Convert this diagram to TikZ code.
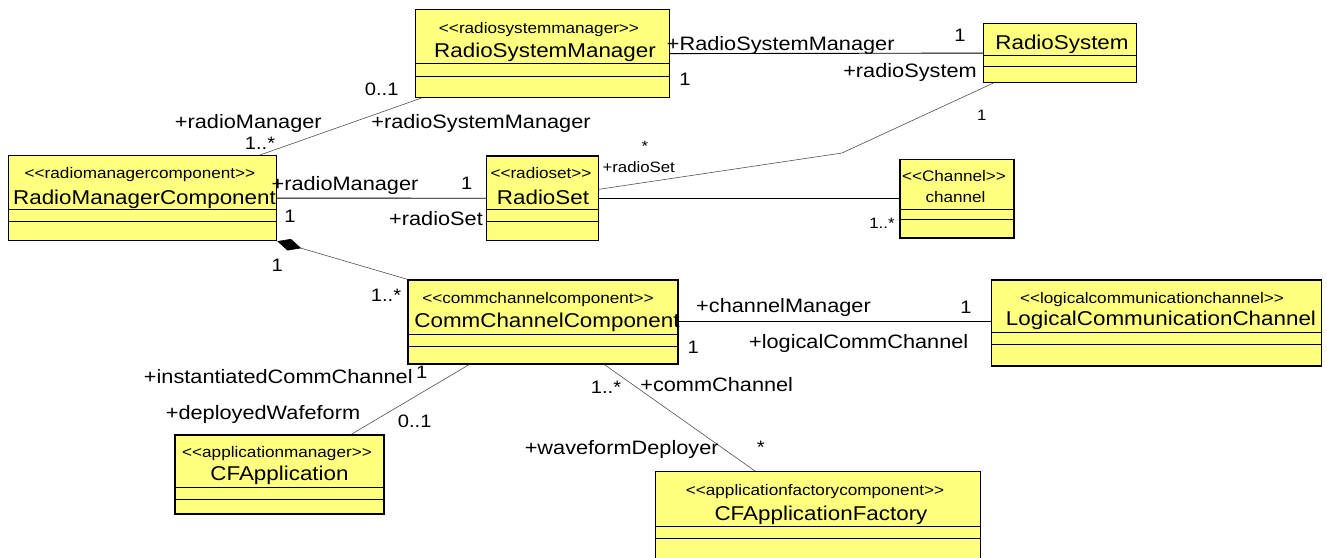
\documentclass[tikz,border=0pt]{standalone}
\usepackage{fontspec}
\setmainfont{Liberation Sans}[FakeStretch=1.12, Ligatures=TeXOff]
\usetikzlibrary{arrows.meta,calc}
\definecolor{classfill}{RGB}{255,255,128}
\definecolor{assocgray}{RGB}{80,80,80}

\tikzset{
  classbox/.style={draw=black, fill=classfill, line width=1.2pt, inner sep=0pt, anchor=north west},
  compline/.style={draw=black, line width=1pt},
  assoc/.style={draw=black, line width=0.9pt},
  diag/.style={draw=assocgray, line width=0.6pt},
  composite/.style={{Diamond[length=25pt,width=12pt,fill=black,color=black]}-},
  clsname/.style={font=\fontsize{20}{21}\selectfont, inner sep=0pt, text height=14.4pt, text depth=0pt},
  stereo/.style={font=\fontsize{15.3}{16}\selectfont, inner sep=0pt, text height=11pt, text depth=0pt},
  lbl/.style={font=\fontsize{19.4}{20}\selectfont, inner sep=0pt, text height=14pt, text depth=0pt},
  mult/.style={font=\fontsize{18}{19}\selectfont, inner sep=0pt, text height=13pt, text depth=0pt},
  smalllbl/.style={font=\fontsize{15}{16}\selectfont, inner sep=0pt, text height=10.8pt, text depth=0pt}
}

% class box: name, top-left x, top-left y, width, height, first and second compartment offsets
\newcommand{\umlbox}[7]{%
  \node[classbox, minimum width=#4pt, minimum height=#5pt] (#1) at (#2,#3) {};
  \draw[compline] ($(#1.north west)+(0,#6)$) -- ($(#1.north east)+(0,#6)$);
  \draw[compline] ($(#1.north west)+(0,#7)$) -- ($(#1.north east)+(0,#7)$);
}

\begin{document}
\begin{tikzpicture}[x=1pt, y=-1pt]
\useasboundingbox (0,0) rectangle (1327,557);
\clip (0,0) rectangle (1327,557);
\fill[white] (0,0) rectangle (1327,557);

% classes
\umlbox{rsm}{415}{9}{254}{88}{54}{67}
\umlbox{rsys}{983}{23}{153}{59}{32}{43.5}
\umlbox{rmc}{7.5}{155}{268.5}{85}{54.3}{66}
\umlbox{rset}{486}{155.3}{111.7}{84.7}{54}{66}
\umlbox{chan}{899.3}{158.7}{114}{78.6}{50.6}{60.6}
\umlbox{ccc}{407.3}{279.3}{270}{84}{55}{67}
\umlbox{lcc}{991}{279.3}{329.7}{86}{52.7}{65}
\umlbox{cfa}{174.3}{434.3}{209}{79}{53}{65}
\umlbox{cfaf}{655}{471}{325}{110}{55.7}{67.3}

% class texts
\node[stereo]  (rsmS)  at (539,28)    {<<radiosystemmanager>>};
\node[clsname] (rsmN)  at (545,50.7)  {RadioSystemManager};
\node[clsname] (rsysN) at (1062,42.7) {RadioSystem};
\node[stereo]  (rmcS)  at (140,173.3) {<<radiomanagercomponent>>};
\node[clsname] (rmcN)  at (144.5,197.5) {RadioManagerComponent};
\node[stereo]  (rsetS) at (541,173.3) {<<radioset>>};
\node[clsname] (rsetN) at (543,197.3) {RadioSet};
\node[stereo]  (chanS) at (954,175.7) {<<Channel>>};
\node[stereo]  (chanN) at (955.5,197.3) {channel};
\node[stereo]  (cccS)  at (538,297.7) {<<commchannelcomponent>>};
\node[clsname] (cccN)  at (547,320.7) {CommChannelComponent};
\node[stereo]  (lccS)  at (1152,298.3) {<<logicalcommunicationchannel>>};
\node[clsname] (lccN)  at (1161,318.3) {LogicalCommunicationChannel};
\node[stereo]  (cfaS)  at (277,451.7) {<<applicationmanager>>};
\node[clsname] (cfaN)  at (279.5,473.3) {CFApplication};
\node[stereo]  (cfafS) at (815,490)   {<<applicationfactorycomponent>>};
\node[clsname] (cfafN) at (821,513.3) {CFApplicationFactory};

% associations
\draw[assoc] (rsm.east) -- (rsys.west);
\draw[diag] ($(rmc.north west)+(252.5,0)$) -- ($(rsm.south west)+(6,0)$);
\draw[assoc] (rmc.east) -- (rset.west);
\coordinate (bend) at (842,153);
\draw[diag] ($(rset.north east)+(0,34)$) -- (bend) -- ($(rsys.south west)+(10,0)$);
\draw[assoc] (rset.east) -- (rset.east -| chan.west);
\draw[diag, composite] (rmc.south east) -- (ccc.north west);
\draw[assoc] (ccc.east) -- (ccc.east -| lcc.west);
\draw[diag] ($(ccc.south west)+(62,0)$) -- ($(cfa.north west)+(177,0)$);
\draw[diag] ($(ccc.south west)+(197,0)$) -- ($(cfaf.north west)+(100,0)$);

% role names and multiplicities
\node[lbl]  (l1)  at (780.7,43.3)  {+RadioSystemManager};
\node[mult] (m1)  at (960,35)      {1};
\node[mult] (m2)  at (685,79.3)    {1};
\node[lbl]  (l2)  at (910,70.7)    {+radioSystem};
\node[mult] (m3)  at (381.7,89.3)  {0..1};
\node[lbl]  (l3)  at (248.3,121.7) {+radioManager};
\node[mult] (m4)  at (260,143.3)   {1..*};
\node[lbl]  (l4)  at (481,121.7)   {+radioSystemManager};
\node[lbl]  (l5)  at (345,183.3)   {+radioManager};
\node[mult] (m5)  at (290,215.7)   {1};
\node[mult] (m6)  at (466.7,183.3) {1};
\node[lbl]  (l6)  at (436,218.3)   {+radioSet};
\node[smalllbl] (m7) at (645,146.5) {*};
\node[smalllbl] (l7) at (638.7,166.7) {+radioSet};
\node[smalllbl] (m8) at (981.7,115) {1};
\node[smalllbl] (m9) at (882,222.7) {1..*};
\node[mult] (m10) at (277.3,265)   {1};
\node[mult] (m11) at (386,295)     {1..*};
\node[lbl]  (l8)  at (783.5,305)   {+channelManager};
\node[mult] (m12) at (966,306.7)   {1};
\node[mult] (m13) at (693.3,346.7) {1};
\node[lbl]  (l9)  at (858.7,341.7) {+logicalCommChannel};
\node[lbl]  (l10) at (278.3,376.7) {+instantiatedCommChannel};
\node[mult] (m14) at (421.7,371.7) {1};
\node[lbl]  (l11) at (263,412.7)   {+deployedWafeform};
\node[mult] (m15) at (414.7,420.7) {0..1};
\node[mult] (m16) at (606,386.7)   {1..*};
\node[lbl]  (l12) at (716.7,384)   {+commChannel};
\node[lbl]  (l13) at (621.7,447.3) {+waveformDeployer};
\node[mult] (m17) at (760.7,447.3) {*};
\end{tikzpicture}
\end{document}
